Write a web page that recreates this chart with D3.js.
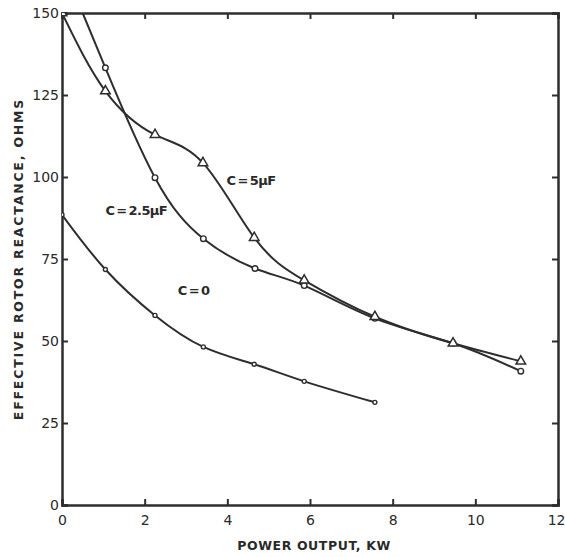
<!DOCTYPE html>
<html lang="en">
<head>
<meta charset="utf-8">
<title>Effective rotor reactance vs power output</title>
<script src="https://cdn.jsdelivr.net/npm/d3@7"></script>
<style>
  body { margin: 0; background: #fff; }
  text { font-family: "DejaVu Sans", sans-serif; fill: #2a2a2a; }
</style>
</head>
<body>
<script>
// data
var xTicks = [0, 2, 4, 6, 8, 10, 12];
var yTicks = [0, 25, 50, 75, 100, 125, 150];

var c0X = [0, 1.05, 2.25, 3.42, 4.65, 5.86, 7.57];
var c0Y = [88.5, 71.8, 57.8, 48.2, 42.9, 37.7, 31.3];

var c25X = [0.5, 1.05, 2.25, 3.42, 4.67, 5.86, 7.57, 9.46, 11.1];
var c25Y = [150, 133.3, 99.8, 81.2, 72.1, 66.9, 56.9, 49.3, 40.8];
var c25Marks = [false, true, true, true, true, true, true, true, true];

var c5X = [0, 1.05, 2.25, 3.41, 4.65, 5.86, 7.57, 9.46, 11.1];
var c5Y = [150, 126.2, 112.9, 104.3, 81.5, 68.5, 57.4, 49.3, 43.8];

var w = 565, h = 557;
var m = {left: 62, right: 7, top: 13, bottom: 52};

var svg = d3.select("body").append("svg")
  .attr("width", w).attr("height", h);

var x = d3.scaleLinear().domain([0, 12]).range([m.left, w - m.right]);
var y = d3.scaleLinear().domain([0, 150]).range([h - m.bottom, m.top]);

var ink = "#2e2e2e";

svg.append("clipPath").attr("id", "plot")
  .append("rect")
  .attr("x", m.left).attr("y", m.top)
  .attr("width", w - m.left - m.right).attr("height", h - m.top - m.bottom);

//axes, ticks pointing inside on all four sides
var axB = svg.append("g").attr("transform", "translate(0," + y(0) + ")")
  .call(d3.axisBottom(x).tickValues(xTicks).tickSize(-6).tickPadding(10));
var axT = svg.append("g").attr("transform", "translate(0," + y(150) + ")")
  .call(d3.axisTop(x).tickValues(xTicks).tickSize(-6).tickFormat(""));
var axL = svg.append("g").attr("transform", "translate(" + x(0) + ",0)")
  .call(d3.axisLeft(y).tickValues(yTicks).tickSize(-6).tickPadding(3));
var axR = svg.append("g").attr("transform", "translate(" + x(12) + ",0)")
  .call(d3.axisRight(y).tickValues(yTicks).tickSize(-6).tickFormat(""));

[axB, axT, axL, axR].forEach(function(g) {
  g.select(".domain").attr("stroke", ink).attr("stroke-width", 2.5);
  g.selectAll(".tick line").attr("stroke", ink).attr("stroke-width", 2);
  g.selectAll(".tick text").attr("font-size", 14).attr("fill", ink)
    .style("font-family", "'DejaVu Sans', sans-serif");
});
axL.selectAll(".tick text").attr("dy", "0.35em");
// last x label sits against the right edge
axB.selectAll(".tick text").filter(function(d) { return d == 12; })
  .attr("text-anchor", "end").attr("dx", 7);

//curves
var line = d3.line()
  .x(function(d) { return x(d[0]); })
  .y(function(d) { return y(d[1]); })
  .curve(d3.curveNatural);

function pts(xs, ys) {
  return xs.map(function(v, i) { return [v, ys[i]]; });
}

var series = [
  {p: pts(c0X, c0Y), mark: "circle", r: 2},
  {p: pts(c25X, c25Y), mark: "circle", r: 2.8, show: c25Marks},
  {p: pts(c5X, c5Y), mark: "tri", r: 4.5}
];

var plot = svg.append("g").attr("clip-path", "url(#plot)");

series.forEach(function(s) {
  plot.append("path").datum(s.p)
    .attr("d", line)
    .attr("fill", "none").attr("stroke", ink).attr("stroke-width", 2);
});

series.forEach(function(s) {
  var data = s.p.filter(function(d, i) { return !s.show || s.show[i]; });
  if (s.mark == "circle") {
    plot.selectAll(null).data(data).enter().append("circle")
      .attr("cx", function(d) { return x(d[0]); })
      .attr("cy", function(d) { return y(d[1]); })
      .attr("r", s.r)
      .attr("fill", "#fff").attr("stroke", ink).attr("stroke-width", 1.4);
  } else {
    plot.selectAll(null).data(data).enter().append("path")
      .attr("transform", function(d) { return "translate(" + x(d[0]) + "," + y(d[1]) + ")"; })
      .attr("d", d3.symbol().type(d3.symbolTriangle).size(40))
      .attr("fill", "#fff").attr("stroke", ink).attr("stroke-width", 1.5);
  }
});

//curve labels
var labels = [
  {t: "C\u2009=\u20095\u03bcF", x: 3.98, y: 97.5},
  {t: "C\u2009=\u20092.5\u03bcF", x: 1.05, y: 88.5},
  {t: "C\u2009=\u20090", x: 2.8, y: 64}
];
svg.selectAll(null).data(labels).enter().append("text")
  .attr("x", function(d) { return x(d.x); })
  .attr("y", function(d) { return y(d.y); })
  .attr("font-size", 13).attr("font-weight", "bold")
  .attr("letter-spacing", "-0.6px")
  .text(function(d) { return d.t; });

//axis titles
svg.append("text")
  .attr("x", (x(0) + x(12)) / 2 + 4).attr("y", 550)
  .attr("text-anchor", "middle")
  .attr("font-size", 12.5).attr("font-weight", "bold")
  .attr("letter-spacing", "0.6px")
  .text("POWER OUTPUT, KW");

svg.append("text")
  .attr("transform", "translate(23," + 259 + ") rotate(-90)")
  .attr("text-anchor", "middle")
  .attr("font-size", 12.5).attr("font-weight", "bold")
  .attr("letter-spacing", "1.8px")
  .text("EFFECTIVE ROTOR REACTANCE, OHMS");
</script>
</body>
</html>
